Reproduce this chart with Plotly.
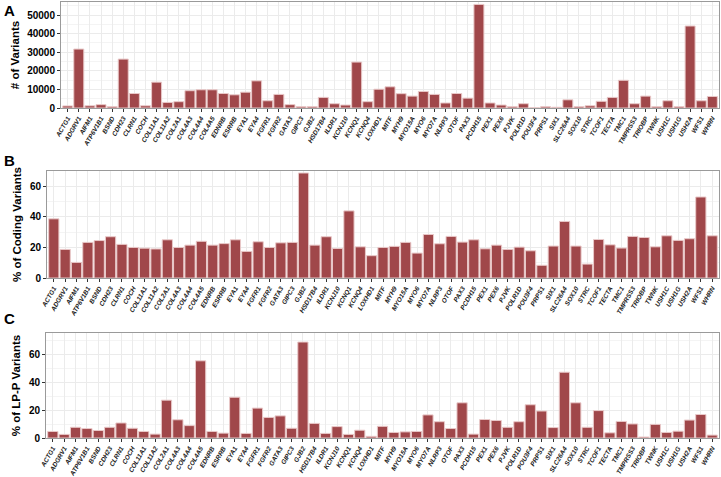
import plotly.graph_objects as go

genes = ["ACTG1","ADGRV1","AIFM1","ATP6V1B1","BSND","CDH23","CLRN1","COCH","COL11A1","COL11A2",
         "COL2A1","COL4A3","COL4A4","COL4A5","EDNRB","ESRRB","EYA1","EYA4","FGFR1","FGFR2",
         "GATA3","GIPC3","GJB2","HSD17B4","ILDR1","KCNJ10","KCNQ1","KCNQ4","LOXHD1","MITF",
         "MYH9","MYO15A","MYO6","MYO7A","NLRP3","OTOF","PAX3","PCDH15","PEX1","PEX6",
         "PJVK","POLR1D","POU3F4","PRPS1","SIX1","SLC26A4","SOX10","STRC","TCOF1","TECTA",
         "TMC1","TMPRSS3","TRIOBP","TWNK","USH1C","USH1G","USH2A","WFS1","WHRN"]

n_variants = [1100,31700,1200,1800,700,26300,7800,1200,13900,3000,
              3400,9300,9800,9800,7800,7100,8500,14600,3900,7300,
              1800,700,700,5700,2300,1600,24700,3400,10100,11400,
              7700,6400,8900,7300,2700,7800,5300,55700,2700,1600,
              700,2300,100,700,400,4400,700,1200,3600,5700,
              14900,2300,6400,700,3900,700,44100,3900,6200]

pct_coding = [38.7,18.7,10.2,23.3,24.5,27.0,22.0,20.0,19.5,19.0,
              25.0,20.0,21.5,24.0,21.5,22.5,25.0,17.4,23.7,20.0,
              23.0,23.3,68.7,21.5,27.0,19.3,43.9,20.4,14.6,20.0,
              20.7,23.3,16.3,28.5,22.4,27.2,23.5,25.0,19.1,21.5,
              18.7,20.2,17.8,8.3,20.9,37.0,20.9,9.1,25.2,21.7,
              19.6,27.2,26.5,20.4,27.6,24.6,25.7,53.0,27.6]

pct_lpp = [4.7,2.6,7.7,6.8,5.4,7.7,10.8,7.0,4.7,2.8,
           27.2,13.1,8.9,55.5,4.7,3.5,29.3,3.3,21.5,14.8,
           15.9,7.0,69.0,10.5,3.3,8.2,2.6,5.6,1.2,8.4,
           4.0,4.4,4.7,16.6,11.7,6.8,25.3,2.8,13.3,12.6,
           7.7,11.7,23.9,19.4,7.5,47.3,25.3,7.7,19.7,3.7,
           11.9,10.1,0.7,9.8,4.0,4.9,12.9,16.9,2.1]

y_titles = ["# of Variants", "% of Coding Variants", "% of LP-P Variants"]
panel_letters = ["A", "B", "C"]
yticks_a = [0, 10000, 20000, 30000, 40000, 50000]
yticks_pct = [0, 20, 40, 60]

W, H = 721, 477
BAR = "#A0474A"
EDGE = "#E9C9C9"
GRID = "#EBEBEB"
FONT = "Liberation Sans, Arial, sans-serif"

# pixel layouts: (left, right, top, bottom)
boxes = [(61, 719, 2, 108), (47, 719, 171, 278), (46, 719, 333, 438)]
yranges = [[0, 57000], [0, 70], [0, 75.5]]
ytickvals = [yticks_a, yticks_pct, yticks_pct]
yminor = [5000, 10, 10]
series = [n_variants, pct_coding, pct_lpp]

fig = go.Figure()
layout = dict(width=W, height=H, margin=dict(l=0, r=0, t=0, b=0),
              paper_bgcolor="white", plot_bgcolor="white", showlegend=False,
              bargap=0.1, font=dict(family=FONT, color="black"), hovermode=False)

for i in range(3):
    xa = "x" if i == 0 else f"x{i+1}"
    ya = "y" if i == 0 else f"y{i+1}"
    fig.add_trace(go.Bar(x=genes, y=series[i], xaxis=xa, yaxis=ya,
                         marker=dict(color=BAR, line=dict(color=EDGE, width=1))))
    l, r, t, b = boxes[i]
    key_x = "xaxis" if i == 0 else f"xaxis{i+1}"
    key_y = "yaxis" if i == 0 else f"yaxis{i+1}"
    layout[key_x] = dict(domain=[l / W, r / W], anchor=ya, type="category",
                         range=[-0.6, len(genes) - 0.4],
                         showgrid=True, gridcolor=GRID, gridwidth=1,
                         showline=True, linecolor="#9A9A9A", linewidth=1, mirror=True,
                         ticks="outside", ticklen=3, tickcolor="#333333",
                         tickangle=-60, tickfont=dict(size=6.5, family=FONT, color="#222222",
                                                      style="italic", weight="bold"),
                         zeroline=False, automargin=False)
    layout[key_y] = dict(domain=[1 - b / H, 1 - t / H], anchor=xa,
                         range=yranges[i], tickvals=ytickvals[i],
                         ticktext=[str(v) for v in ytickvals[i]],
                         showgrid=True, gridcolor=GRID, gridwidth=1,
                         minor=dict(dtick=yminor[i], showgrid=True, gridcolor="#F4F4F4", gridwidth=0.6),
                         showline=True, linecolor="#9A9A9A", linewidth=1, mirror=True,
                         ticks="outside", ticklen=3, tickcolor="#333333",
                         tickfont=dict(size=10, family=FONT, color="black", weight="bold"),
                         title=dict(text=y_titles[i], font=dict(size=11.5, family=FONT, weight="bold"),
                                    standoff=5),
                         zeroline=False, automargin=False)

fig.update_layout(**layout)

letter_y = [10, 160, 318]
for i in range(3):
    fig.add_annotation(text=panel_letters[i], x=2 / W, y=1 - letter_y[i] / H, xref="paper", yref="paper",
                       xanchor="left", yanchor="middle", showarrow=False,
                       font=dict(size=15, family=FONT, color="black", weight="bold"))

fig.write_html("out.html", config={"displayModeBar": False},
               post_script="document.body.style.margin='0';document.body.style.overflow='hidden';")
